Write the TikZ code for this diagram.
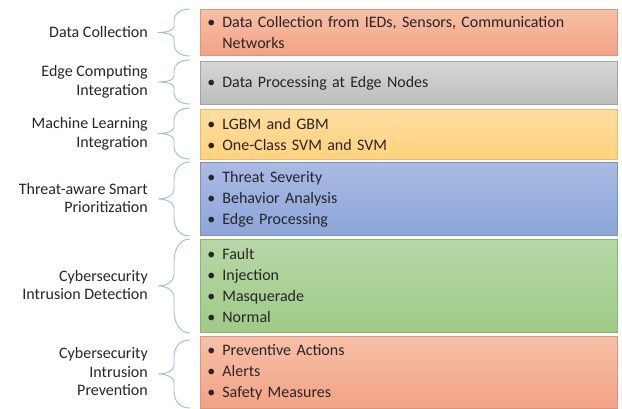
\documentclass[tikz,border=0pt]{standalone}
\usepackage{fontspec}
\setmainfont{Carlito}
\definecolor{orT}{HTML}{F6C0A6}
\definecolor{orB}{HTML}{F3A284}
\definecolor{orD}{HTML}{DE9478}
\definecolor{grT}{HTML}{D6D6D6}
\definecolor{grB}{HTML}{BDBDBD}
\definecolor{grD}{HTML}{A3A3A3}
\definecolor{yeT}{HTML}{FFDD9E}
\definecolor{yeB}{HTML}{FFD27C}
\definecolor{yeD}{HTML}{E3BC6C}
\definecolor{blT}{HTML}{AABBE3}
\definecolor{blB}{HTML}{8CA5D8}
\definecolor{blD}{HTML}{7990C6}
\definecolor{gnT}{HTML}{B6D8A5}
\definecolor{gnB}{HTML}{A0CA88}
\definecolor{gnD}{HTML}{8AB574}
\definecolor{brc}{HTML}{9DBCD8}
\newcommand\itm[1]{\makebox[15pt][l]{•}#1}
\newcommand\bracepath[3]{% top, bottom, name
  \coordinate (#3m) at (174,{(#1+#2)/2});
  \draw[bracestyle] (190,#1) .. controls (180,#1) and (174,{#1+(#2-#1)/10}) .. (174,{#1+(#2-#1)/4})
     -- (174,{(#1+#2)/2-(#2-#1)/8}) .. controls (174,{(#1+#2)/2-(#2-#1)/24}) and (166,{(#1+#2)/2}) .. (158,{(#1+#2)/2})
     .. controls (166,{(#1+#2)/2}) and (174,{(#1+#2)/2+(#2-#1)/24}) .. (174,{(#1+#2)/2+(#2-#1)/8})
     -- (174,{#2-(#2-#1)/4}) .. controls (174,{#2-(#2-#1)/10}) and (180,#2) .. (190,#2);
}
\begin{document}
\begin{tikzpicture}[x=1pt,y=-1pt,
  box/.style={draw, line width=0.8pt, anchor=north west, minimum width=417pt,
    text width=403pt, inner xsep=7pt, inner ysep=0pt, align=left,
    font=\fontsize{16}{21}\selectfont, text=black!85},
  lab/.style={anchor=east, align=right, inner sep=0pt,
    font=\fontsize{16}{18.5}\selectfont, text=black!85},
  bracestyle/.style={draw=brc, line width=0.9pt}]
\useasboundingbox (0,0) rectangle (622,409);
\node[box, draw=orD, top color=orT, bottom color=orB, minimum height=46pt] (b1) at (200,9)
  {\itm{Data Collection from IEDs, Sensors, Communication}\\\hspace*{15pt}Networks};
\node[box, draw=grD, top color=grT, bottom color=grB, minimum height=43pt] (b2) at (200,61)
  {\itm{Data Processing at Edge Nodes}};
\node[box, draw=yeD, top color=yeT, bottom color=yeB, minimum height=50pt] (b3) at (200,109)
  {\itm{LGBM and GBM}\\\itm{One-Class SVM and SVM}};
\node[box, draw=blD, top color=blT, bottom color=blB, minimum height=73pt] (b4) at (200,162)
  {\itm{Threat Severity}\\\itm{Behavior Analysis}\\\itm{Edge Processing}};
\node[box, draw=gnD, top color=gnT, bottom color=gnB, minimum height=93pt] (b5) at (200,239)
  {\itm{Fault}\\\itm{Injection}\\\itm{Masquerade}\\\itm{Normal}};
\node[box, draw=orD, top color=orT, bottom color=orB, minimum height=72pt] (b6) at (200,336)
  {\itm{Preventive Actions}\\\itm{Alerts}\\\itm{Safety Measures}};

\bracepath{9}{56}{r1}
\bracepath{60}{104}{r2}
\bracepath{108}{159}{r3}
\bracepath{162}{236}{r4}
\bracepath{239}{333}{r5}
\bracepath{340}{408}{r6}

\node[lab] (l1) at (148,32) {Data Collection};
\node[lab] (l2) at (148,82) {Edge Computing\\Integration};
\node[lab] (l3) at (148,134) {Machine Learning\\Integration};
\node[lab] (l4) at (148,198) {Threat-aware Smart\\Prioritization};
\node[lab] (l5) at (148,285) {Cybersecurity\\Intrusion Detection};
\node[lab] (l6) at (148,372) {Cybersecurity\\Intrusion\\Prevention};
\end{tikzpicture}
\end{document}
